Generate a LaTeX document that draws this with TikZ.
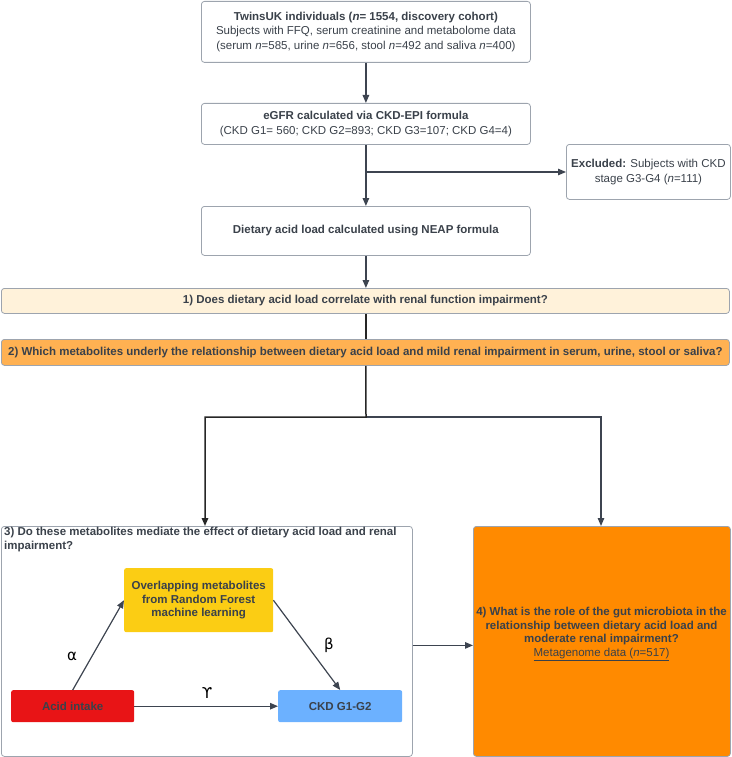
\documentclass[tikz,border=0pt]{standalone}
\usepackage{fontspec}
\setmainfont{Liberation Sans}
\newfontfamily\symfont{DejaVu Sans}
\usetikzlibrary{arrows.meta}
\definecolor{txt}{HTML}{3A414A}
\definecolor{edgec}{HTML}{9DA4AE}
\definecolor{linec}{HTML}{3D4450}
\definecolor{cream}{HTML}{FFF2DA}
\definecolor{lorange}{HTML}{FFB152}
\definecolor{dorange}{HTML}{FF8A00}
\definecolor{yel}{HTML}{FBCD14}
\definecolor{redb}{HTML}{E81416}
\definecolor{blu}{HTML}{6CB1FF}
\tikzset{
  box/.style={draw=edgec, line width=0.8pt, rounded corners=3pt, anchor=north west,
    inner sep=2pt, align=center, text=txt, font=\fontsize{11.5}{14.5}\selectfont},
  sz/.style 2 args={minimum width=#1pt, minimum height=#2pt},
  mbox/.style={rounded corners=2pt, anchor=north west, inner sep=2pt, align=center,
    text=txt, font=\bfseries\fontsize{11.5}{13.7}\selectfont},
  conn/.style={draw=linec, line width=1.2pt, -{Triangle[length=8pt,width=6.5pt]}},
  connk/.style={draw=black!85, line width=1.5pt, -{Triangle[length=8pt,width=6.5pt]}},
  greek/.style={font=\symfont\fontsize{15}{15}\selectfont, text=black},
  plain/.style={text=txt, font=\fontsize{11.5}{13.7}\selectfont},
}
\begin{document}
\begin{tikzpicture}[x=1pt,y=-1pt]
\useasboundingbox (0,0) rectangle (731,757);
% top flow
\node[box, sz={329}{61}] (b1) at (201,1)
  {\textbf{TwinsUK individuals (\textit{n}= 1554, discovery cohort)}\\
   Subjects with FFQ, serum creatinine and metabolome data\\
   (serum \textit{n}=585, urine \textit{n}=656, stool \textit{n}=492 and saliva \textit{n}=400)};
\node[box, sz={329}{41}] (b2) at (201,103)
  {\textbf{eGFR calculated via CKD-EPI formula}\\
   (CKD G1= 560; CKD G2=893; CKD G3=107; CKD G4=4)};
\node[box, sz={164}{55}] (ex) at (566,144)
  {\textbf{Excluded:} Subjects with CKD\\ stage G3-G4 (\textit{n}=111)};
\node[box, sz={329}{49}] (b3) at (201,206)
  {\textbf{Dietary acid load calculated using NEAP formula}};
\node[box, sz={728}{25}, fill=cream] (q1) at (1,288)
  {\textbf{1) Does dietary acid load correlate with renal function impairment?}};
\node[box, sz={728}{26}, fill=lorange] (q2) at (1,339)
  {\textbf{2) Which metabolites underly the relationship between dietary acid load and mild renal impairment in serum, urine, stool or saliva?}};
% bottom boxes
\node[box, sz={411}{230}] (q3) at (1,526) {};
\node[plain, anchor=north west, align=left, inner sep=0pt] (q3t) at (4,527)
  {\textbf{3) Do these metabolites mediate the effect of dietary acid load and renal}\\
   \textbf{impairment?}};
\node[box, sz={257}{230}, fill=dorange, draw=edgec] (q4) at (473,526) {};
\node[plain, align=center, inner sep=0pt] (q4t) at (601.5,634)
  {\textbf{4) What is the role of the gut microbiota in the}\\
   \textbf{relationship between dietary acid load and}\\
   \textbf{moderate renal impairment?}\\
   \underline{Metagenome data (\textit{n}=517)}};
% mediation
\node[mbox, sz={149}{64}, fill=yel] (met) at (124,568)
  {Overlapping metabolites\\ from Random Forest\\ machine learning};
\node[mbox, sz={123}{32}, fill=redb] (acid) at (11,690) {Acid intake};
\node[mbox, sz={124}{32}, fill=blu] (ckd) at (278,690) {CKD G1-G2};
\node[greek] (al) at (72,656) {α};
\node[greek] (be) at (329,645) {β};
\node[greek] (ga) at (207,693) {ϒ};
% connectors
\draw[conn] (b1.south) -- (b2.north);
\draw[conn] (b2.south) -- (b3.north);
\coordinate (exs) at (366,172);
\draw[conn] (exs) -- (ex.west |- exs);
\draw[conn] (b3.south) -- (q1.north -| b3.south);
\draw[connk, -] (q1.south -| b3.south) -- (q2.north -| b3.south);
\coordinate (split) at (366,417);
\coordinate (q3in) at (205,526);
\coordinate (q4in) at (601,526);
\draw[conn] (split) -| (q4in);
\draw[connk] (q2.south -| b3.south) -- (split) -| (q3in);
\draw[conn] (acid.north) -- (met.west);
\draw[conn] (met.east) -- (ckd.north);
\draw[conn] (acid.east) -- (ckd.west);
\draw[conn] ([yshift=-4pt]q3.east) -- ([yshift=-4pt]q4.west);
\end{tikzpicture}
\end{document}
